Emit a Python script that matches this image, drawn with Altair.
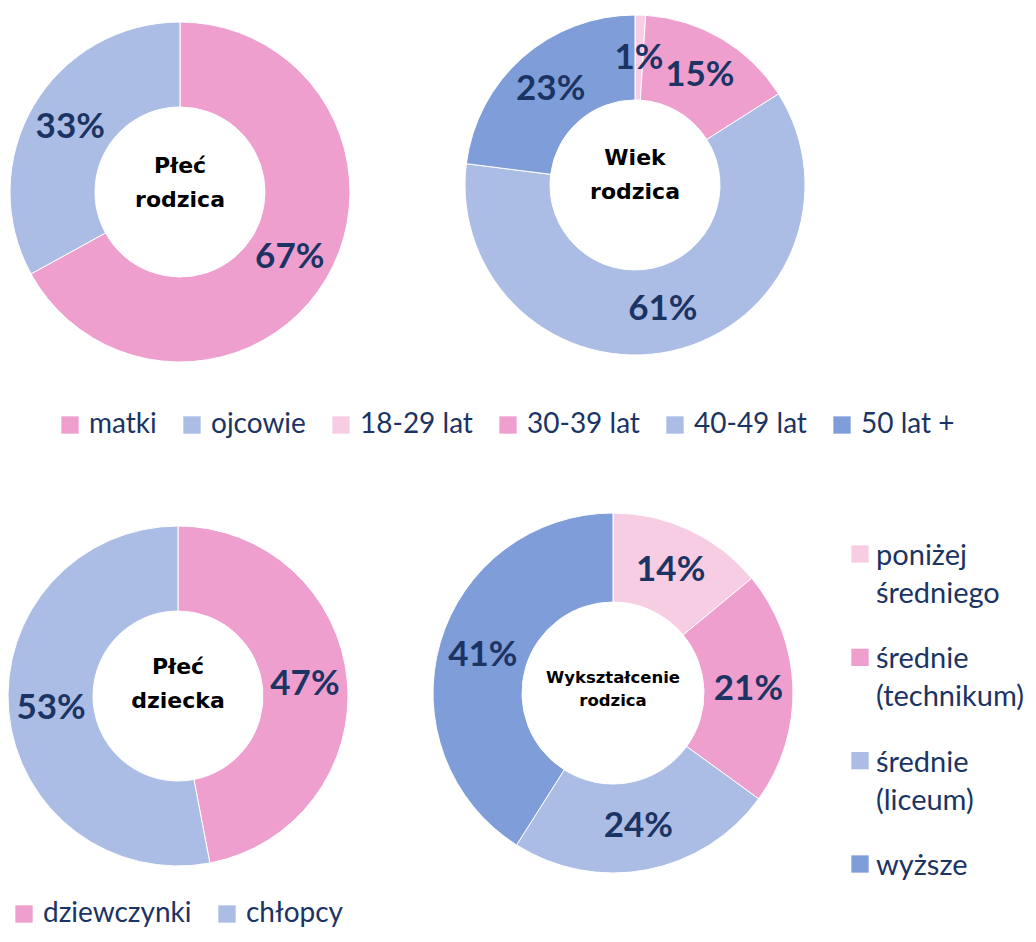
import altair as alt
import pandas as pd

# ---------------- data ----------------
parent_sex_cats = ["matki", "ojcowie"]
parent_sex_vals = [67, 33]

parent_age_cats = ["18-29 lat", "30-39 lat", "40-49 lat", "50 lat +"]
parent_age_vals = [1, 15, 61, 23]

child_sex_cats = ["dziewczynki", "chłopcy"]
child_sex_vals = [47, 53]

edu_cats = ["poniżej\nśredniego", "średnie\n(technikum)", "średnie\n(liceum)", "wyższe"]
edu_vals = [14, 21, 24, 41]

titles = ["Płeć\nrodzica", "Wiek\nrodzica", "Płeć\ndziecka", "Wykształcenie\nrodzica"]

# ---------------- styles ----------------
PINK = "#EE9FCE"
LIGHT_BLUE = "#ABBDE5"
BLUE = "#7F9DD9"
LIGHT_PINK = "#F7CDE4"
NAVY = "#1B3463"

top_colors = [PINK, LIGHT_BLUE, LIGHT_PINK, PINK, LIGHT_BLUE, BLUE]
child_colors = [PINK, LIGHT_BLUE]
edu_colors = [LIGHT_PINK, PINK, LIGHT_BLUE, BLUE]

M = 8  # page margin
W, H = 1020, 926


def P(v):
    return v - M


def donut(cats, vals, title, cx, cy, r_out, r_in, color, title_dy, title_size, title_lh):
    df = pd.DataFrame({
        "cat": cats,
        "val": vals,
        "ord": list(range(len(cats))),
        "label": [f"{v}%" for v in vals],
    })
    base = alt.Chart(df).encode(
        theta=alt.Theta("val:Q", stack=True, scale=alt.Scale(domain=[0, 100])),
        order=alt.Order("ord:Q"),
        x=alt.value(P(cx)),
        y=alt.value(P(cy)),
    )
    arc = base.mark_arc(outerRadius=r_out, innerRadius=r_in, stroke="white", strokeWidth=1).encode(
        color=color
    )
    txt = base.mark_text(
        radius=(r_out + r_in) / 2, font="Lato", fontSize=35, fontWeight="bold", color=NAVY
    ).encode(text="label:N", detail="cat:N")
    tdf = pd.DataFrame({"t": [title]})
    ttl = alt.Chart(tdf).mark_text(
        font="DejaVu Sans", fontWeight="bold", fontSize=title_size, color="black",
        lineBreak="\n", lineHeight=title_lh, baseline="alphabetic", align="center",
    ).encode(text="t:N", x=alt.value(P(cx)), y=alt.value(P(cy + title_dy)))
    return arc, txt, ttl


legend_common = dict(
    orient="none", direction="horizontal", title=None, symbolType="square",
    symbolSize=300, symbolStrokeWidth=0, symbolOpacity=1, labelFont="Lato",
    labelFontSize=28, labelColor=NAVY, labelOffset=5, columnPadding=21, labelLimit=0,
)

top_color = alt.Color(
    "cat:N",
    scale=alt.Scale(domain=parent_sex_cats + parent_age_cats, range=top_colors),
    legend=alt.Legend(legendX=P(56), legendY=P(411), columns=6, **legend_common),
)
child_color = alt.Color(
    "cat:N",
    scale=alt.Scale(domain=child_sex_cats, range=child_colors),
    legend=alt.Legend(legendX=P(10), legendY=P(900), columns=2, **legend_common),
)
edu_color = alt.Color(
    "cat:N", scale=alt.Scale(domain=edu_cats, range=edu_colors), legend=None
)

a1, t1, h1 = donut(parent_sex_cats, parent_sex_vals, titles[0], 180, 192, 170, 85, top_color, -19, 22, 34)
a2, t2, h2 = donut(parent_age_cats, parent_age_vals, titles[1], 635, 185, 170, 85, top_color, -20, 22, 34)
a3, t3, h3 = donut(child_sex_cats, child_sex_vals, titles[2], 178, 696, 170, 85, child_color, -22, 22, 34)
a4, t4, h4 = donut(edu_cats, edu_vals, titles[3], 613, 693, 180, 91, edu_color, -10, 16.5, 23)

# custom legend for education (multi-line labels)
ldf = pd.DataFrame({"cat": edu_cats})
ly = alt.Y("cat:N", scale=alt.Scale(domain=edu_cats, range=[P(554), P(864)], padding=0), axis=None)
leg_sq = alt.Chart(ldf).mark_square(size=300, opacity=1, strokeWidth=0).encode(
    y=ly, x=alt.value(P(860)),
    color=alt.Color("cat:N", scale=alt.Scale(domain=edu_cats, range=edu_colors), legend=None),
)
leg_tx = alt.Chart(ldf).mark_text(
    font="Lato", fontSize=29, color=NAVY, align="left", baseline="alphabetic",
    lineBreak="\n", lineHeight=38, dy=11,
).encode(y=ly, x=alt.value(P(876)), text="cat:N")

top = alt.layer(a1, a2)
chart = alt.layer(
    top, a3, a4, leg_sq, t1, t2, t3, t4, h1, h2, h3, h4, leg_tx
).resolve_scale(color="independent").properties(
    width=W, height=H, padding=0, autosize=alt.AutoSizeParams(type="none")
).configure_view(stroke=None)

chart.save("out.html", embed_options={"renderer": "svg", "actions": False})
